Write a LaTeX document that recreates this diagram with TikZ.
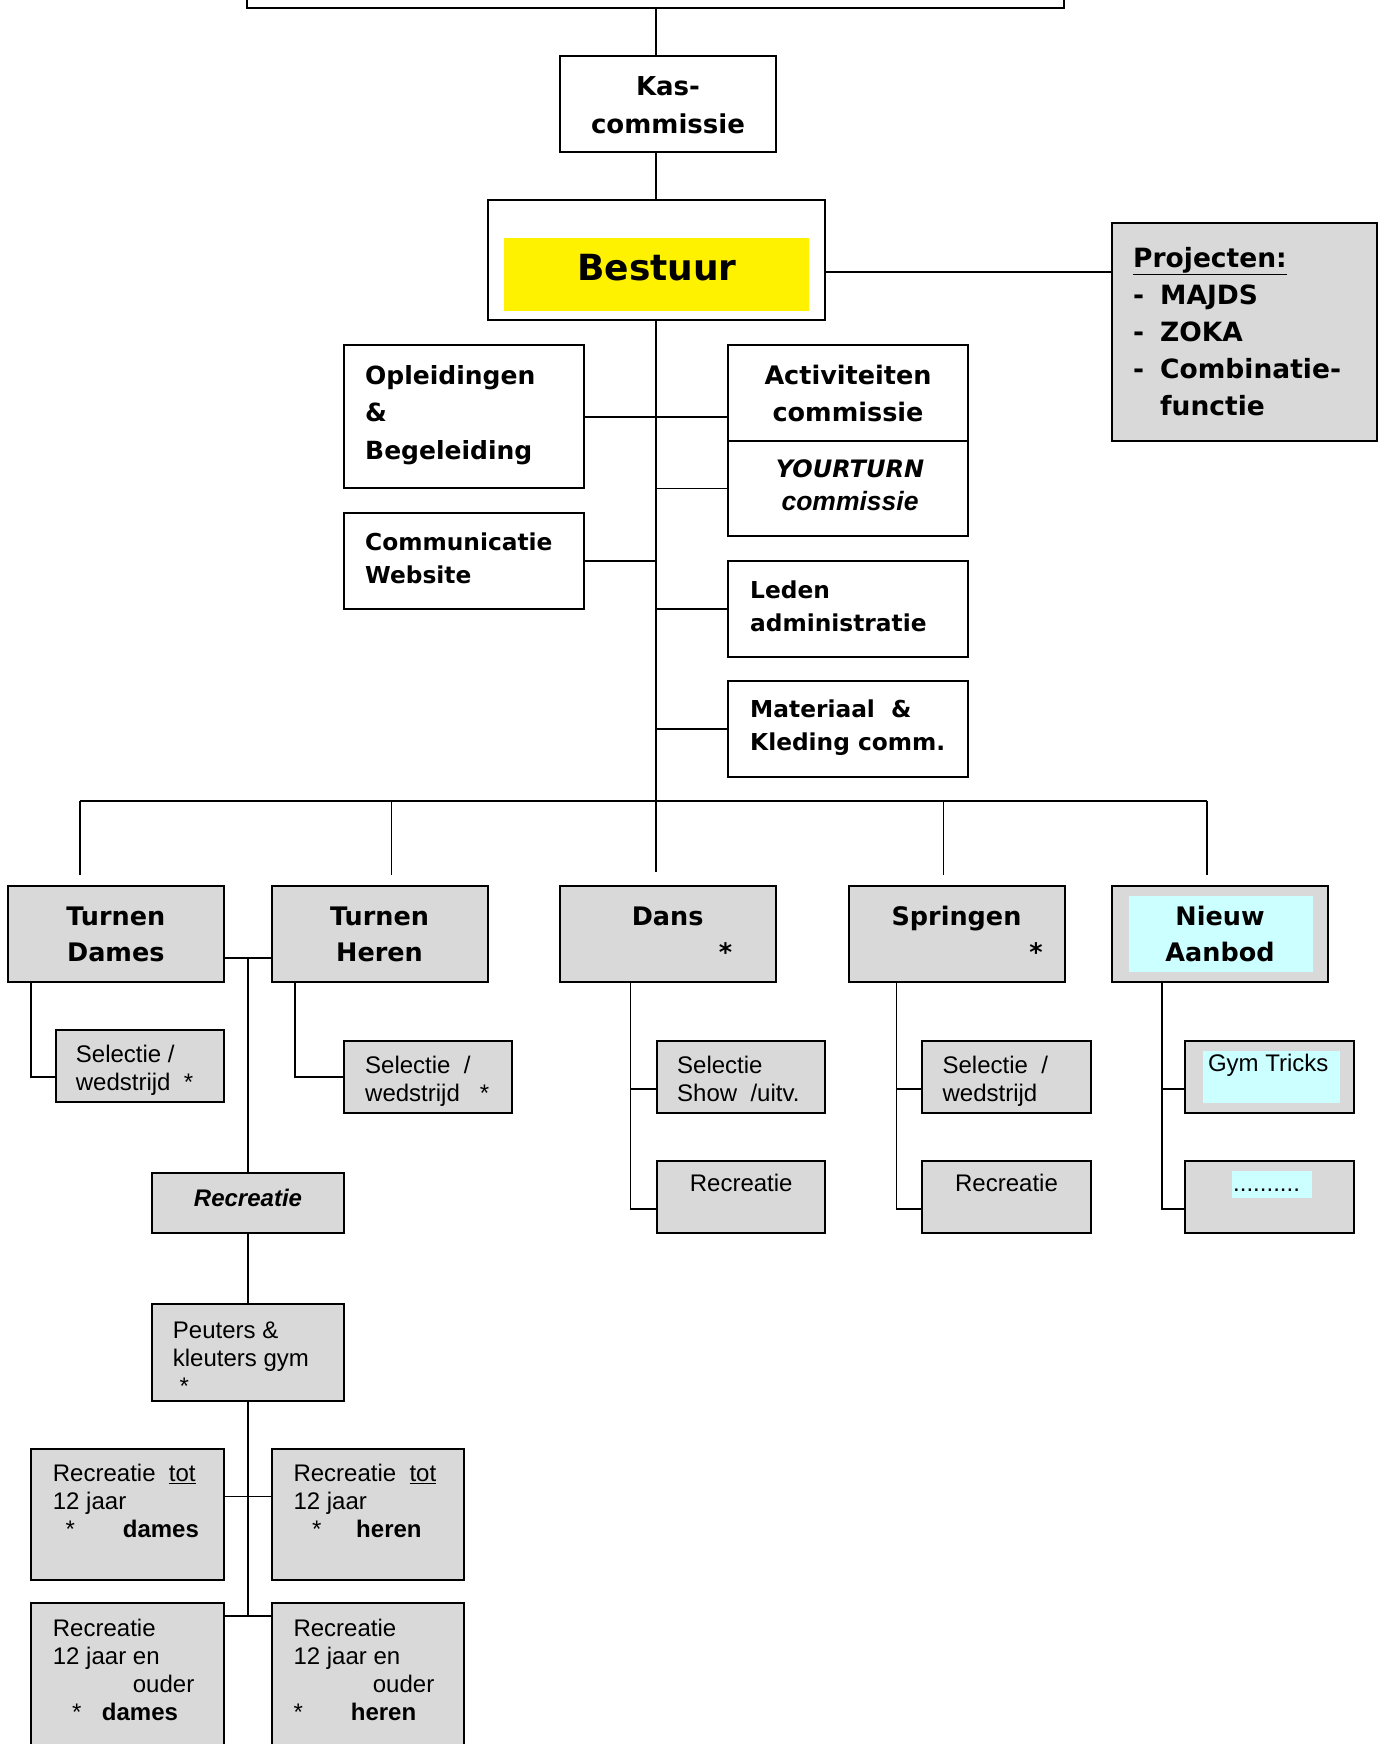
\documentclass[tikz,border=0pt]{standalone}
\usepackage{fontspec}
\setmainfont{Liberation Sans}
\newfontfamily\heavy{DejaVu Sans}
\definecolor{boxgray}{RGB}{217,217,217}
\definecolor{aanbod}{RGB}{204,255,255}

\begin{document}
\begin{tikzpicture}[x=1pt,y=-1pt,
  box/.style={draw,line width=2pt,inner sep=0pt,fill=white},
  gbox/.style={box,fill=boxgray},
  big/.style={minimum width=216pt,minimum height=96pt},
  wide/.style={box,minimum width=240pt,minimum height=95.6pt},
  sub/.style={gbox,minimum width=168.5pt,minimum height=72pt},
  rbox/.style={gbox,minimum width=192.5pt},
  lnk/.style={line width=1.6pt},
  hd/.style={inner sep=0pt,anchor=base,align=center,font=\heavy\bfseries\fontsize{25.5}{36.7}\selectfont},
  hdl/.style={inner sep=0pt,anchor=base west,align=left,font=\heavy\bfseries\fontsize{23.3}{33}\selectfont},
  tx/.style={inner sep=0pt,anchor=base west,align=left,font=\fontsize{24}{28}\selectfont}]
\clip (0,0) rectangle (1383,1744);

\node[box,minimum width=817pt,minimum height=100pt] (top) at (655.5,-42) {};
\node[box,big] (kas) at (668,104.2) {};
\node[hd,font=\heavy\bfseries\fontsize{26}{37.5}\selectfont] (kast) at (668,133.5) {Kas-\\commissie};
\node[box,minimum width=337pt,minimum height=120.5pt] (bestuur) at (656,260.2) {};
\node[fill=yellow,inner sep=0pt,minimum width=304.5pt,minimum height=72pt] (geel) at (656.7,274.5) {};
\node[hd,font=\heavy\bfseries\fontsize{36}{40}\selectfont] (bestuurt) at (657,280) {Bestuur};
\node[gbox,minimum width=265pt,minimum height=217.5pt] (proj) at (1244,332) {};
\node[hd,anchor=base west,align=left,font=\heavy\bfseries\fontsize{26.5}{37}\selectfont] (projt) at (1133,415)
  {\underline{Projecten:}\\\makebox[27pt][l]{-}MAJDS\\\makebox[27pt][l]{-}ZOKA\\\makebox[27pt][l]{-}Combinatie-\\\hspace*{27pt}functie};

\node[wide,minimum height=143.5pt] (opl) at (464,416.7) {};
\node[hd,anchor=base west,align=left,font=\heavy\bfseries\fontsize{25}{37.7}\selectfont] (oplt) at (365,459.4) {Opleidingen\\\&\\Begeleiding};
\node[wide] (com) at (464,560.8) {};
\node[hdl] (comt) at (365,583) {Communicatie\\Website};
\node[wide] (act) at (848,392.8) {};
\node[hd,font=\heavy\bfseries\fontsize{25.5}{37.7}\selectfont] (actt) at (848,421.7) {Activiteiten\\commissie};
\node[wide,minimum height=95.4pt] (yt) at (848,488.3) {};
\node[hd,font=\fontsize{24}{33}\selectfont] (ytt) at (850,510)
  {{\heavy\bfseries\itshape YOURTURN}\\{\fontsize{26.5}{33}\selectfont\bfseries\itshape commissie}};
\node[wide] (leden) at (848,608.8) {};
\node[hdl] (ledent) at (750,631) {Leden\\administratie};
\node[wide] (mat) at (848,728.8) {};
\node[hdl] (matt) at (750,750.7) {Materiaal\ \ \&\\Kleding comm.};

\node[gbox,big] (td) at (115.8,933.7) {};
\node[hd] (tdt) at (115.8,961.7) {Turnen\\Dames};
\node[gbox,big] (th) at (379.5,933.7) {};
\node[hd] (tht) at (379.5,961.7) {Turnen\\Heren};
\node[gbox,big] (dans) at (667.6,933.7) {};
\node[hd] (danst) at (667.6,961.7) {Dans\\\hspace*{116pt}*};
\node[gbox,big] (spr) at (956.5,933.7) {};
\node[hd] (sprt) at (956.5,961.7) {Springen\\\hspace*{159pt}*};
\node[gbox,big] (nieuw) at (1220,933.7) {};
\node[fill=aanbod,inner sep=0pt,minimum width=184pt,minimum height=75.5pt] (nieuwc) at (1221,934.2) {};
\node[hd] (nieuwt) at (1220,961.7) {Nieuw\\Aanbod};

\node[sub] (tdsel) at (139.8,1065.8) {};
\node[tx] (tdselt) at (75.7,1090.5) {Selectie /\\wedstrijd\ \ *};
\node[sub] (thsel) at (428,1076.9) {};
\node[tx] (thselt) at (365,1101.5) {Selectie\ \ /\\wedstrijd\ \ \ *};
\node[sub] (dsel) at (741.2,1076.9) {};
\node[tx] (dselt) at (677,1101.5) {Selectie\\Show\ \ /uitv.};
\node[sub] (drec) at (741.2,1196.7) {};
\node[tx,anchor=base] (drect) at (741.2,1191.7) {Recreatie};
\node[sub] (ssel) at (1006.5,1076.9) {};
\node[tx] (sselt) at (942.4,1101.5) {Selectie\ \ /\\wedstrijd};
\node[sub] (srec) at (1006.5,1196.7) {};
\node[tx,anchor=base] (srect) at (1006.5,1191.7) {Recreatie};
\node[sub] (nsel) at (1269.5,1076.9) {};
\node[fill=aanbod,inner sep=0pt,minimum width=136.5pt,minimum height=51.7pt] (nselc) at (1271.7,1076.9) {};
\node[tx] (nselt) at (1207.8,1071.7) {Gym Tricks};
\node[sub] (ndots) at (1269.5,1196.7) {};
\node[fill=aanbod,inner sep=0pt,minimum width=80pt,minimum height=26.7pt] (ndotsc) at (1272,1184.4) {};
\node[tx] (ndotst) at (1233,1191.7) {..........};

\node[rbox,minimum height=60pt] (rec) at (247.8,1203.4) {};
\node[tx,anchor=base,font=\bfseries\itshape\fontsize{24}{28}\selectfont] (rect) at (248,1206.7) {Recreatie};
\node[rbox,minimum height=96.5pt] (peut) at (247.8,1352.5) {};
\node[tx] (peutt) at (172.7,1394) {Peuters \&\\kleuters gym\\\hspace*{6.7pt}*};
\node[rbox,minimum height=131.6pt] (rtd) at (127.7,1514.5) {};
\node[tx] (rtdt) at (52.7,1537.5) {Recreatie\ \ \underline{tot}\\12 jaar\\\hspace*{12.6pt}*\hspace*{48pt}\textbf{dames}};
\node[rbox,minimum height=131.6pt] (rth) at (367.8,1514.5) {};
\node[tx] (rtht) at (293.3,1537.5) {Recreatie\ \ \underline{tot}\\12 jaar\\\hspace*{18.7pt}*\hspace*{34.7pt}\textbf{heren}};
\node[rbox,minimum height=160pt] (rod) at (127.7,1683.3) {};
\node[tx] (rodt) at (52.7,1720.5) {Recreatie\\12 jaar en\\\hspace*{80pt}ouder\\\hspace*{19.3pt}*\hspace*{20.4pt}\textbf{dames}};
\node[rbox,minimum height=160pt] (roh) at (367.8,1683.3) {};
\node[tx] (roht) at (293.3,1720.5) {Recreatie\\12 jaar en\\\hspace*{79.4pt}ouder\\*\hspace*{48pt}\textbf{heren}};

\draw[lnk] (bestuur.north |- top.south) -- (bestuur.north |- kas.north);
\draw[lnk] (bestuur.north |- kas.south) -- (bestuur.north);
\draw[lnk] ([yshift=-12pt]bestuur.east) -- ([yshift=-12pt]bestuur.east -| proj.west);
\draw[lnk,shorten >=13pt] (bestuur.south) -- (bestuur.south |- dans.north);
\draw[lnk] (opl.east) -- (opl.east -| act.west);
\draw[lnk] (bestuur.south |- yt.west) -- (yt.west);
\draw[lnk] (com.east) -- (com.east -| bestuur.south);
\draw[lnk] (bestuur.south |- leden.west) -- (leden.west);
\draw[lnk] (bestuur.south |- mat.west) -- (mat.west);

\coordinate (bar) at (655.5,801);
\coordinate (tdd) at ([xshift=-36pt]td.north);
\coordinate (thd) at ([xshift=12pt]th.north);
\coordinate (sd) at ([xshift=-13pt]spr.north);
\coordinate (nd) at ([xshift=-13pt]nieuw.north);
\draw[lnk] (tdd |- bar) -- (nd |- bar);
\draw[lnk,shorten >=10pt] (tdd |- bar) -- (tdd);
\draw[lnk,shorten >=10pt] (thd |- bar) -- (thd);
\draw[lnk,shorten >=10pt] (sd |- bar) -- (sd);
\draw[lnk,shorten >=10pt] (nd |- bar) -- (nd);

\coordinate (tj) at ([yshift=-24pt]td.east);
\draw[lnk] (tj) -- (tj -| th.west);
\draw[lnk] (rec.north |- tj) -- (rec.north);
\draw[lnk] ([xshift=24pt]td.south west) |- ([yshift=-11pt]tdsel.west);
\draw[lnk] ([xshift=24.5pt]th.south west) |- (thsel.west);
\draw[lnk] ([xshift=72pt]dans.south west) |- ([yshift=-12pt]drec.west);
\draw[lnk] ([yshift=-12pt]dsel.west) -| ([xshift=72pt]dans.south west);
\draw[lnk] ([xshift=49pt]spr.south west) |- ([yshift=-12pt]srec.west);
\draw[lnk] ([yshift=-12pt]ssel.west) -| ([xshift=49pt]spr.south west);
\draw[lnk] ([xshift=51pt]nieuw.south west) |- ([yshift=-12pt]ndots.west);
\draw[lnk] ([yshift=-12pt]nsel.west) -| ([xshift=51pt]nieuw.south west);

\draw[lnk] (rec.south) -- (peut.north);
\coordinate (uj) at ([yshift=18pt]rtd.east);
\draw[lnk] (uj) -- (uj -| rth.west);
\coordinate (lj) at ([yshift=-13.4pt]rod.north east);
\draw[lnk] (lj) -- (lj -| roh.west);
\draw[lnk] (peut.south) -- (peut.south |- lj);
\end{tikzpicture}
\end{document}
